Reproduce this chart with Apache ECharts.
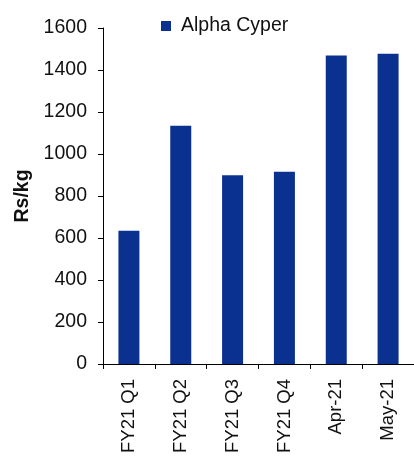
<!DOCTYPE html>
<html>
<head>
<meta charset="utf-8">
<script src="https://cdn.jsdelivr.net/npm/echarts@6/dist/echarts.min.js"></script>
<style>
  html, body { margin: 0; padding: 0; background: #fff; }
  #chart { width: 414px; height: 456px; }
</style>
</head>
<body>
<div id="chart"></div>
<script>
// Alpha Cypermethrin price by period (Rs/kg)
const categories = ['FY21 Q1', 'FY21 Q2', 'FY21 Q3', 'FY21 Q4', 'Apr-21', 'May-21'];
const prices = [635, 1134, 899, 915, 1469, 1477];
const seriesName = 'Alpha Cyper';
const yTicks = { min: 0, max: 1600, interval: 200 };

const font = 'Arial, "Liberation Sans", sans-serif';
const chart = echarts.init(document.getElementById('chart'), null, { renderer: 'canvas' });

chart.setOption({
  animation: false,
  textStyle: { fontFamily: font },
  legend: {
    data: [{ name: seriesName, icon: 'rect' }],
    left: 156,
    top: 11,
    itemWidth: 10,
    itemHeight: 10,
    selectedMode: false,
    textStyle: { fontFamily: font, fontSize: 19.5, color: '#111', padding: [0, 0, 0, 5] }
  },
  grid: { left: 103, right: -7, top: 28, bottom: 91, containLabel: false },
  xAxis: {
    type: 'category',
    data: categories,
    axisLine: { lineStyle: { color: '#000', width: 1 } },
    axisTick: { show: true, length: 5, lineStyle: { color: '#000' } },
    axisLabel: { rotate: 90, margin: 15, fontSize: 18.5, color: '#111', fontFamily: font }
  },
  yAxis: {
    type: 'value',
    min: yTicks.min,
    max: yTicks.max,
    interval: yTicks.interval,
    name: 'Rs/kg',
    nameLocation: 'middle',
    nameGap: 60,
    nameTextStyle: { fontSize: 19.5, fontWeight: 'bold', color: '#111', fontFamily: font },
    axisLine: { show: true, lineStyle: { color: '#000', width: 1 } },
    axisTick: { show: true, length: 5, lineStyle: { color: '#000' } },
    splitLine: { show: false },
    axisLabel: { margin: 16, fontSize: 19.5, color: '#111', fontFamily: font, formatter: v => String(v) }
  },
  series: [{
    name: seriesName,
    type: 'bar',
    data: prices,
    barWidth: 21,
    itemStyle: { color: '#0b3190' }
  }]
});
</script>
</body>
</html>
